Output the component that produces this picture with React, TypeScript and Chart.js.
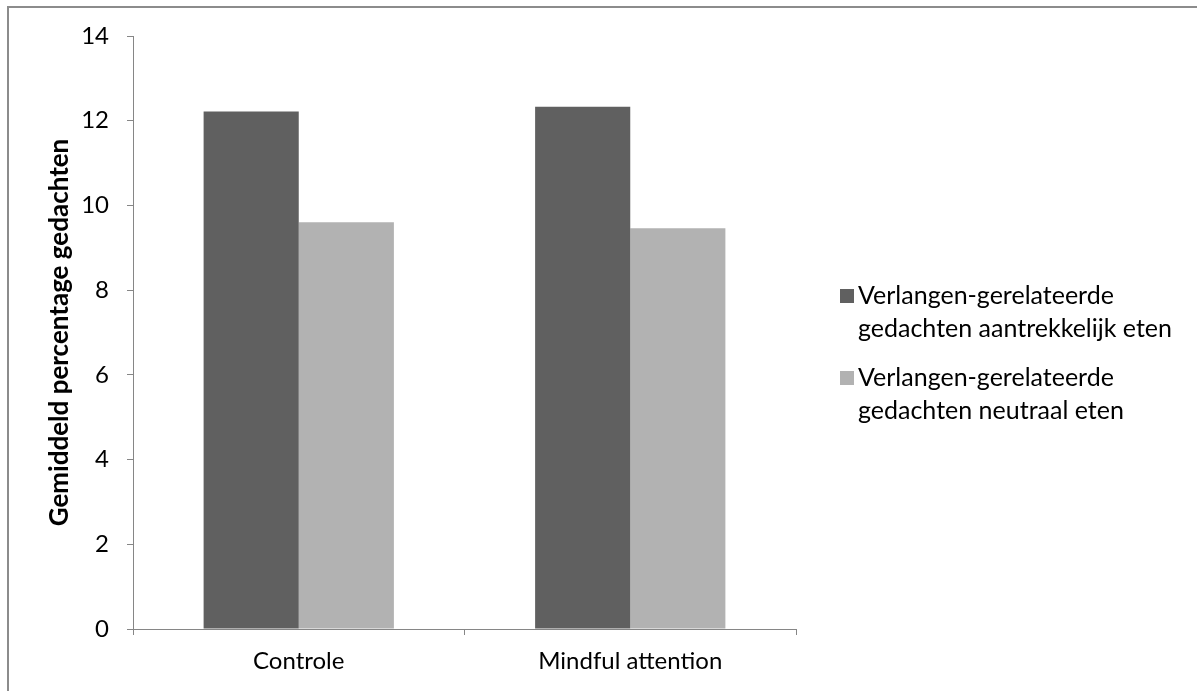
import { useEffect, useRef } from "react";
import { Chart, registerables } from "chart.js";

Chart.register(...registerables);

// Categories and mean percentages per condition
const categories = ["Controle", "Mindful attention"];
const attractiveFood = [12.22, 12.33];
const neutralFood = [9.6, 9.46];
const seriesLabels = [
  ["Verlangen-gerelateerde", "gedachten aantrekkelijk eten"],
  ["Verlangen-gerelateerde", "gedachten neutraal eten"],
];
const yTicks = [0, 2, 4, 6, 8, 10, 12, 14];
const yAxisTitle = "Gemiddeld percentage gedachten";

const FONT = "Lato, 'Open Sans', sans-serif";
const TICK_SIZE = 24;
const LEGEND_SIZE = 25;
const AXIS = "#868686";
const DARK = "#606060";
const LIGHT = "#b2b2b2";

// Legend drawn to the right of the plot, with wrapped labels
const sideLegend = {
  id: "sideLegend",
  afterDraw(chart: any) {
    const ctx = chart.ctx as CanvasRenderingContext2D;
    const x0 = chart.chartArea.right + 44;
    ctx.save();
    ctx.font = `${LEGEND_SIZE}px ${FONT}`;
    ctx.textBaseline = "alphabetic";
    ctx.textAlign = "left";
    let baseline = 304;
    chart.data.datasets.forEach((ds: any) => {
      const lines: string[] = ds.legendLines;
      ctx.fillStyle = ds.backgroundColor;
      ctx.fillRect(x0, baseline - 15, 14, 14);
      ctx.fillStyle = "#000";
      lines.forEach((line, i) => ctx.fillText(line, x0 + 18, baseline + i * 33));
      baseline += 82;
    });
    ctx.restore();
  },
};

export default function App() {
  const canvasRef = useRef<HTMLCanvasElement | null>(null);

  useEffect(() => {
    if (!canvasRef.current) return;
    const chart = new Chart(canvasRef.current, {
      type: "bar",
      data: {
        labels: categories,
        datasets: [
          {
            label: seriesLabels[0].join(" "),
            legendLines: seriesLabels[0],
            data: attractiveFood,
            backgroundColor: DARK,
            borderWidth: 0,
          } as any,
          {
            label: seriesLabels[1].join(" "),
            legendLines: seriesLabels[1],
            data: neutralFood,
            backgroundColor: LIGHT,
            borderWidth: 0,
          } as any,
        ],
      },
      options: {
        responsive: false,
        animation: false,
        devicePixelRatio: 1,
        layout: { padding: { left: 44, top: 36, right: 401, bottom: 0 } },
        datasets: { bar: { categoryPercentage: 0.574, barPercentage: 1 } },
        plugins: {
          legend: { display: false },
          tooltip: { enabled: false },
        },
        scales: {
          x: {
            grid: {
              display: true,
              drawOnChartArea: false,
              offset: true,
              tickLength: 6,
              color: AXIS,
            },
            border: { color: AXIS, width: 1 },
            ticks: {
              color: "#000",
              font: { family: FONT, size: TICK_SIZE },
              padding: 12,
            },
            afterFit: (s: any) => {
              s.height = 62;
            },
          },
          y: {
            min: 0,
            max: 14,
            afterBuildTicks: (s: any) => {
              s.ticks = yTicks.map((v) => ({ value: v }));
            },
            grid: {
              display: true,
              drawOnChartArea: false,
              tickLength: 6,
              color: AXIS,
            },
            border: { color: AXIS, width: 1 },
            ticks: {
              color: "#000",
              font: { family: FONT, size: TICK_SIZE },
              padding: 18,
            },
            title: {
              display: true,
              text: yAxisTitle,
              color: "#000",
              font: { family: FONT, size: 26, weight: "bold" },
              padding: { top: 0, bottom: 0 },
            },
            afterFit: (s: any) => {
              s.width = 89;
            },
          },
        },
      },
      plugins: [sideLegend],
    });
    return () => chart.destroy();
  }, []);

  return (
    <div
      style={{
        position: "fixed",
        left: 0,
        top: 0,
        width: 1197,
        height: 691,
        background: "#fff",
        overflow: "hidden",
      }}
    >
      <div
        style={{
          position: "absolute",
          left: 7,
          top: 6,
          width: 1200,
          height: 700,
          borderLeft: "2px solid #8c8c8c",
          borderTop: "2px solid #8c8c8c",
        }}
      />
      <canvas
        ref={canvasRef}
        width={1197}
        height={691}
        style={{ position: "absolute", left: 0, top: 0, width: 1197, height: 691 }}
      />
    </div>
  );
}
